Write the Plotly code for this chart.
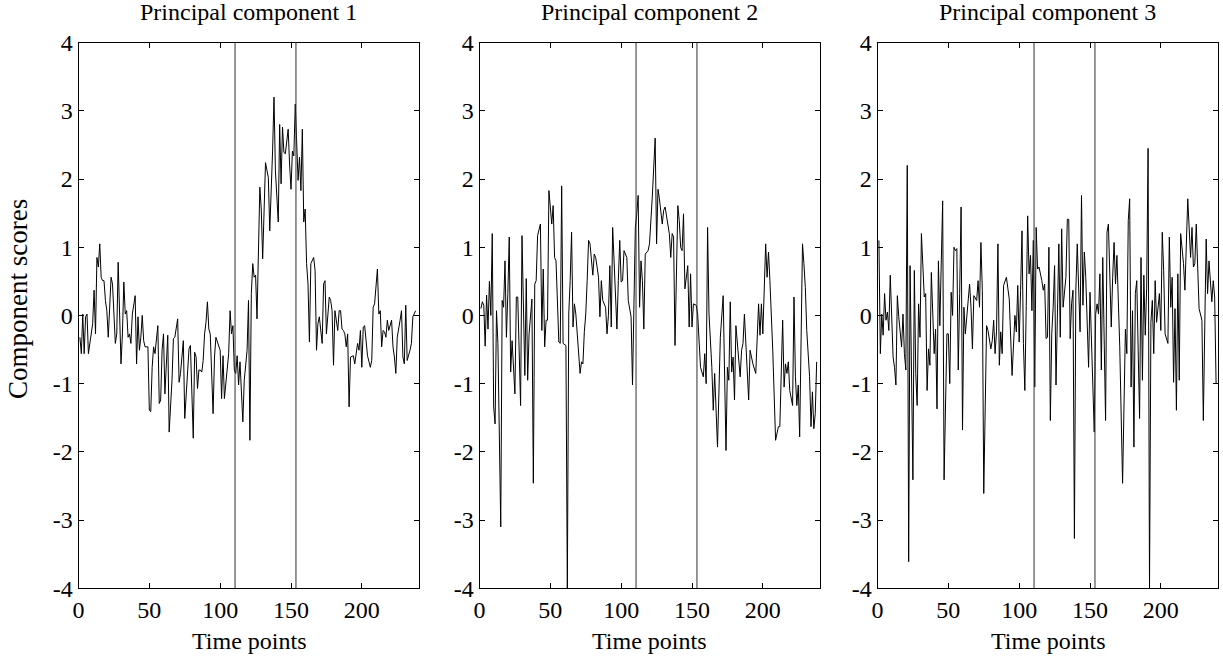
import plotly.graph_objects as go

# ---------------- data ----------------
pc1_time = [1,2,3,4,5,6,7,9,10,11,12,13,14,15,16,17,18,19,20,21,22,23,24,26,27,28,30,31,32,33,34,35,36,37,38,40,41,42,43,44,45,46,47,49,50,51,52,53,54,56,57,58,59,60,61,
            63,64,66,67,68,70,71,72,74,75,77,78,79,81,82,83,84,85,86,87,88,89,90,91,92,93,95,96,97,99,100,101,102,103,105,106,107,108,109,110,111,112,113,114,116,117,119,120,121,122,
            123,124,125,126,128,129,130,132,134,135,137,138,139,141,142,143,144,145,146,148,149,150,151,152,153,155,156,157,158,159,160,161,162,163,164,166,167,168,169,170,172,173,174,175,177,178,179,180,181,182,
            183,184,185,186,187,188,189,190,191,192,194,195,196,197,198,199,200,201,202,203,204,206,207,208,209,211,212,213,214,215,216,217,218,219,221,222,223,224,225,227,228,229,230,231,232,234,235,236,237,238]
pc1_score = [-0.32,-0.56,0.02,-0.56,-0.02,0.02,-0.56,-0.27,-0.12,0.37,-0.27,0.85,0.71,1.05,0.56,0.51,0.51,0.22,0.07,-0.32,0.27,0.56,0.46,-0.41,-0.27,0.78,-0.71,-0.27,0.49,0.02,0.07,-0.32,-0.27,-0.41,0.02,0.29,-0.71,-0.02,-0.51,-0.32,0.0,-0.37,-0.46,-0.46,-1.39,-1.41,-0.76,-0.46,-0.56,-0.15,-1.29,-1.24,-0.51,-0.27,-1.15,
             -0.29,-1.71,-0.95,-0.34,-0.32,-0.05,-0.98,-0.85,-0.37,-1.51,-0.80,-0.49,-0.44,-1.80,-0.54,-0.61,-1.07,-0.80,-0.80,-0.83,-0.66,-0.27,-0.10,0.20,-0.20,-0.27,-1.44,-0.61,-0.32,-0.46,-0.51,-1.22,-0.59,-1.22,-0.71,-0.56,0.07,-0.27,-0.15,-0.80,-0.85,-0.59,-1.02,-0.68,-1.56,-0.95,-0.51,0.22,-1.83,0.32,
             0.76,0.56,0.59,-0.05,1.88,1.56,0.83,2.24,2.02,1.24,2.41,3.20,2.12,1.37,2.80,1.93,2.76,2.39,2.37,2.73,2.22,1.85,2.41,2.34,3.10,1.98,2.32,1.83,2.73,1.37,1.56,0.76,0.46,-0.39,0.76,0.85,0.66,-0.51,-0.12,-0.02,-0.41,0.46,0.51,-0.27,0.27,0.22,0.07,-0.73,0.07,-0.07,
             -0.22,0.07,0.07,-0.20,-0.22,-0.27,-0.46,-0.27,-1.34,-0.61,-0.59,-0.71,-0.51,-0.41,-0.51,-0.22,-0.76,-0.17,-0.15,-0.41,-0.59,-0.76,-0.66,0.12,0.17,0.68,0.02,0.07,-0.46,-0.22,-0.24,-0.32,-0.07,-0.22,-0.07,-0.46,-0.61,-0.85,-0.32,-0.07,0.07,-0.61,-0.71,0.15,-0.66,-0.51,-0.41,-0.02,0.02,0.07]

pc2_time = [1,2,3,4,5,6,7,8,9,
            10,11,12,13,15,16,17,18,19,20,21,22,23,25,26,27,29,30,32,33,34,35,37,38,39,40,41,43,44,45,46,47,48,49,51,52,53,54,56,57,58,59,61,62,63,64,65,66,67,68,70,71,72,73,74,
            75,76,77,78,80,81,82,83,84,85,86,87,89,90,91,92,93,94,96,97,98,99,100,101,102,104,105,107,108,109,110,111,112,113,114,115,116,117,119,120,121,122,124,125,126,127,129,130,131,132,134,135,
            136,137,138,140,141,142,143,144,145,147,148,149,150,151,153,154,155,156,158,159,160,161,162,164,165,166,168,169,170,172,173,174,175,176,177,178,179,180,181,183,184,185,186,187,189,190,191,192,193,195,
            196,197,198,199,200,201,202,203,204,205,206,207,209,210,211,212,213,214,215,216,217,218,219,221,222,223,224,225,226,227,228,229,230,231,232,233,234,235,236,237,238]
pc2_score = [0.1,0.2,0.15,-0.45,0.3,-0.2,0.5,0.0,1.2,
             -1.34,-1.59,0.07,-0.41,-3.10,0.22,0.12,0.80,-0.32,0.32,1.15,-0.83,-0.37,-1.15,0.27,0.27,-1.32,1.17,-0.88,0.54,-0.95,-0.27,0.24,-2.46,0.46,0.51,1.17,1.34,-0.22,0.68,-0.46,-0.07,-0.07,1.83,1.34,1.61,0.85,0.80,-0.39,-0.41,1.9,-0.41,-0.44,-4.0,0.02,0.51,1.22,-0.17,0.17,0.02,-0.56,-0.85,-0.68,-0.71,-0.24,
             0.02,0.51,1.10,1.05,0.59,0.90,0.85,0.71,0.56,-0.02,0.51,0.22,0.12,-0.27,0.0,0.73,-0.17,1.29,0.12,-0.20,0.51,1.10,0.49,0.51,0.95,0.85,0.22,-0.02,-1.02,0.02,1.29,1.49,1.76,0.12,0.80,0.51,-0.20,0.90,0.95,1.05,1.37,1.75,2.6,1.05,1.85,1.71,1.34,1.54,1.59,1.44,1.20,0.85,
             1.20,1.15,-0.44,1.61,1.39,1.0,0.95,1.49,0.39,0.73,-0.17,0.61,-0.17,0.17,0.15,0.02,-0.37,-0.76,-0.90,-0.56,-1.0,1.29,0.02,-0.76,-1.39,-0.85,-1.93,-0.95,-0.32,0.29,-0.85,-1.98,-0.76,-0.95,0.20,-0.83,-0.61,-1.24,-0.15,-0.61,-0.90,-0.51,-0.41,0.02,-0.93,-1.24,-0.51,-0.61,-0.71,-0.85,
             -0.34,0.17,-0.29,0.17,-0.27,0.27,1.05,0.56,0.93,0.51,-0.17,-0.51,-1.83,-1.73,-1.63,-1.63,-0.85,-0.07,-1.05,-0.71,-0.85,-0.68,-1.10,-1.32,0.27,-0.90,-1.32,-1.02,-1.78,-0.49,1.05,0.76,0.41,-0.22,-0.54,-0.90,-1.63,-1.12,-1.66,-1.44,-0.68]

pc3_time = [1,2,3,4,5,6,7,8,9,10,11,12,13,14,15,17,18,19,20,21,22,23,25,26,27,28,29,30,31,33,34,35,36,37,38,40,41,42,43,44,45,46,47,49,50,51,52,53,54,55,56,57,58,59,60,
            61,62,64,65,66,67,68,70,71,72,73,74,75,77,78,80,81,82,83,84,85,86,87,88,89,91,93,94,95,97,98,99,100,101,102,103,104,105,106,107,108,109,110,111,112,113,114,116,117,118,119,120,121,
            122,123,124,125,126,127,128,129,130,131,132,133,134,135,136,137,138,139,140,141,143,144,145,146,147,149,150,151,153,154,155,156,157,158,159,161,162,163,165,166,167,168,169,171,173,175,176,177,178,179,180,181,
            182,183,185,186,187,188,189,190,191,192,193,194,195,196,197,199,200,201,202,203,205,206,207,208,209,210,211,212,213,214,216,217,218,219,221,222,223,224,225,226,227,229,230,231,232,233,234,236,237,238,239]
pc3_score = [1.10,-0.56,0.02,-0.29,0.32,-0.07,0.05,-0.22,0.59,-0.22,-0.61,-0.76,-1.02,0.29,-0.02,-0.46,0.02,-0.56,-0.80,2.2,-3.61,0.73,-2.41,0.66,-0.85,-1.32,0.17,-0.32,1.20,0.27,0.32,-1.10,-0.49,-0.73,0.63,-0.56,-0.20,-1.37,0.80,-0.15,0.80,1.68,-2.41,-0.27,-0.27,-1.0,0.34,0.0,1.0,0.95,0.98,-0.80,0.32,1.59,-1.68,
             0.12,-0.27,0.29,0.46,0.12,-0.49,0.29,0.22,0.51,0.12,1.07,0.37,-2.61,-0.15,-0.22,-0.49,-0.37,-0.07,-0.56,-0.24,1.05,-0.73,-0.24,-0.56,0.44,0.56,0.24,-0.51,-0.88,0.0,-0.24,0.44,-0.39,0.37,1.24,-0.41,-1.10,0.15,1.46,0.61,0.88,0.07,1.10,-1.05,1.29,0.68,0.71,0.51,0.37,0.46,-0.34,-0.32,1.0,
             -1.54,-0.27,0.12,0.73,-1.02,0.07,1.05,-0.32,1.27,0.12,0.37,0.56,1.41,1.41,-0.34,0.17,0.37,-3.27,0.37,1.05,-0.24,1.76,0.15,0.93,0.56,-0.76,0.34,-0.32,-1.71,0.02,0.17,0.02,0.61,-0.80,0.85,-1.54,1.22,1.34,-0.17,0.56,1.07,0.46,0.88,-0.46,-2.46,-0.20,-0.56,1.39,1.71,-1.05,0.07,-1.93,
             0.32,0.51,-1.51,0.85,-0.95,0.59,-0.29,0.4,2.45,-4.0,-0.10,0.22,-0.56,0.51,-0.10,0.32,-0.22,1.22,0.66,-0.27,-0.41,1.15,0.12,0.56,-0.98,0.10,-1.39,0.61,-0.95,1.20,0.76,0.37,1.20,1.71,0.85,1.29,0.71,0.76,1.34,0.80,0.10,-0.07,-1.54,-0.17,1.12,0.32,0.80,0.20,0.51,0.27,-1.0]

panel_titles = ["Principal component 1", "Principal component 2", "Principal component 3"]
x_ticks = [0, 50, 100, 150, 200]
y_ticks = [-4, -3, -2, -1, 0, 1, 2, 3, 4]
y_tick_labels = ["-4", "-3", "-2", "-1", "0", "1", "2", "3", "4"]
marker_times = [110.5, 153.5]
x_label = "Time points"
y_label = "Component scores"

# ---------------- figure ----------------
W, H = 1223, 661
FONT = "Liberation Serif"
FS = 24
x_domains = [[78.5 / W, 418.5 / W], [479.5 / W, 819.5 / W], [877.5 / W, 1217.5 / W]]
y_domain = [1 - 588.3 / H, 1 - 42.6 / H]

fig = go.Figure()
series = [(pc1_time, pc1_score), (pc2_time, pc2_score), (pc3_time, pc3_score)]
layout_axes = {}
shapes = []
annotations = []
for i, (tx, ty) in enumerate(series):
    n = "" if i == 0 else str(i + 1)
    fig.add_trace(go.Scatter(x=tx, y=ty, mode="lines",
                             line=dict(color="black", width=1),
                             xaxis="x" + n, yaxis="y" + n, showlegend=False,
                             hoverinfo="skip"))
    common = dict(ticks="inside", ticklen=5, tickwidth=1, tickcolor="black",
                  showline=True, linecolor="black", linewidth=1, mirror="ticks",
                  showgrid=False, zeroline=False, automargin=False,
                  tickfont=dict(family=FONT, size=FS, color="black"))
    layout_axes["xaxis" + n] = dict(common, domain=x_domains[i], range=[0, 240],
                                    tickvals=x_ticks, anchor="y" + n)
    layout_axes["yaxis" + n] = dict(common, domain=y_domain, range=[-4, 4],
                                    tickvals=y_ticks, ticktext=y_tick_labels,
                                    anchor="x" + n)
    for t in marker_times:
        shapes.append(dict(type="line", xref="x" + n, yref="y" + n + " domain",
                           x0=t, x1=t, y0=0, y1=1,
                           line=dict(color="#303030", width=1)))
    xc = (x_domains[i][0] + x_domains[i][1]) / 2
    annotations.append(dict(text=panel_titles[i], x=xc, y=1 - 12 / H, xref="paper",
                            yref="paper", showarrow=False, xanchor="center",
                            yanchor="middle", font=dict(family=FONT, size=FS, color="black")))
    annotations.append(dict(text=x_label, x=xc, y=1 - 641 / H, xref="paper",
                            yref="paper", showarrow=False, xanchor="center",
                            yanchor="middle", font=dict(family=FONT, size=FS, color="black")))

annotations.append(dict(text=y_label, x=18 / W, y=1 - 299 / H, xref="paper", yref="paper",
                        showarrow=False, textangle=-90, xanchor="center", yanchor="middle",
                        font=dict(family=FONT, size=27, color="black")))

fig.update_layout(width=W, height=H, autosize=False,
                  margin=dict(l=0, r=0, t=0, b=0, pad=0),
                  paper_bgcolor="white", plot_bgcolor="white",
                  shapes=shapes, annotations=annotations, **layout_axes)

fig.write_html("out.html",
               post_script="document.body.style.margin='0';document.body.style.overflow='hidden';")
